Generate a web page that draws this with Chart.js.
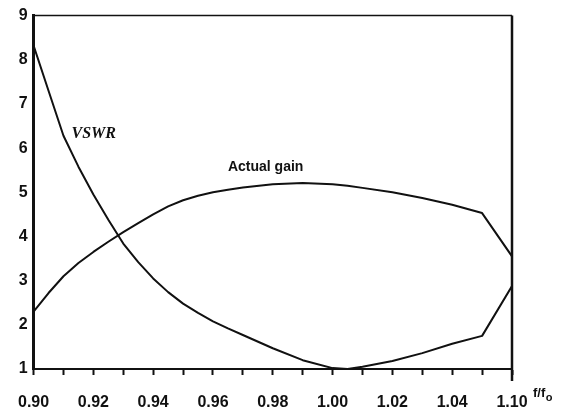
<!DOCTYPE html>
<html><head><meta charset="utf-8">
<script src="https://cdn.jsdelivr.net/npm/chart.js@4/dist/chart.umd.min.js"></script>
<style>html,body{margin:0;padding:0;background:#fff}#wrap{width:575px;height:415px;position:relative}</style>
</head><body><div id="wrap"><canvas id="c"></canvas></div>
<script>
// f/f0 (plotted positions on the axis)
const freq = [0.900,0.905,0.910,0.915,0.920,0.925,0.930,0.935,0.940,0.945,0.950,0.955,0.960,0.965,0.970,0.980,0.990,1.000,1.005,1.010,1.020,1.030,1.040,1.050,1.060];
const vswr = [8.32,7.30,6.28,5.58,4.95,4.38,3.84,3.42,3.05,2.74,2.48,2.27,2.08,1.92,1.77,1.47,1.20,1.02,1.00,1.05,1.18,1.36,1.57,1.75,2.88];
const gain = [2.30,2.72,3.10,3.40,3.65,3.88,4.10,4.30,4.50,4.68,4.82,4.92,5.00,5.06,5.11,5.18,5.21,5.18,5.15,5.10,5.00,4.87,4.72,4.53,3.55];
const xTickLabels = ["0.90","0.92","0.94","0.96","0.98","1.00","1.02","1.04","1.10"];
const yTickLabels = ["1","2","3","4","5","6","7","8","9"];
const seriesNames = ["VSWR","Actual gain"];
const axisTitle = {main:"f/f", sub:"o"};

const ink = '#111';
const pts = ys => freq.map((x,i)=>({x:x, y:ys[i]}));

const labelPos = { VSWR:{x:0.9127,y:6.33}, "Actual gain":{x:0.965,y:5.56} };

const textPlugin = {
  id:'texts',
  afterDatasetsDraw(chart){
    const {ctx, scales:{x,y}, chartArea} = chart;
    ctx.save();
    ctx.fillStyle = ink;
    ctx.textBaseline = 'middle';
    ctx.textAlign = 'left';
    ctx.font = 'bold italic 16px "Liberation Serif"';
    ctx.fillText(seriesNames[0], x.getPixelForValue(labelPos.VSWR.x), y.getPixelForValue(labelPos.VSWR.y));
    ctx.font = 'bold 14px "Liberation Sans"';
    ctx.fillText(seriesNames[1], x.getPixelForValue(labelPos["Actual gain"].x), y.getPixelForValue(labelPos["Actual gain"].y));
    // axis title
    ctx.textBaseline = 'alphabetic';
    ctx.font = 'bold 13px "Liberation Sans"';
    const tx = chartArea.right + 21, ty = chartArea.bottom + 28;
    ctx.fillText(axisTitle.main, tx, ty);
    const w = ctx.measureText(axisTitle.main).width;
    ctx.font = 'bold 11px "Liberation Sans"';
    ctx.fillText(axisTitle.sub, tx + w + 0.5, ty + 4);
    // top & right frame
    ctx.strokeStyle = ink;
    ctx.lineWidth = 1.5;
    ctx.beginPath();
    ctx.moveTo(chartArea.left, chartArea.top); ctx.lineTo(chartArea.right, chartArea.top);
    ctx.stroke();
    ctx.lineWidth = 2.5;
    ctx.beginPath();
    ctx.moveTo(chartArea.right, chartArea.top); ctx.lineTo(chartArea.right, chartArea.bottom + 12);
    ctx.stroke();
    ctx.restore();
  }
};

new Chart(document.getElementById('c'), {
  type:'line',
  data:{ datasets:[
    {label:seriesNames[0], data:pts(vswr), borderColor:ink, borderWidth:2, pointRadius:0, tension:0, fill:false, borderJoinStyle:'round'},
    {label:seriesNames[1], data:pts(gain), borderColor:ink, borderWidth:2, pointRadius:0, tension:0, fill:false, borderJoinStyle:'round'}
  ]},
  options:{
    responsive:true, maintainAspectRatio:false, animation:false,
    layout:{padding:{left:0,right:63,top:14,bottom:0}},
    plugins:{legend:{display:false}, tooltip:{enabled:false}},
    scales:{
      x:{type:'linear', min:0.90, max:1.06,
        afterFit(s){ s.height = 46; },
        border:{color:ink, width:2},
        grid:{display:true, drawOnChartArea:false, drawTicks:true, tickLength:6, tickColor:ink, tickWidth:2},
        ticks:{stepSize:0.01, autoSkip:false, maxRotation:0, color:ink, padding:18,
          font:{family:'"Liberation Sans"', weight:'bold', size:16},
          callback:(v,i)=> i%2===0 ? xTickLabels[i/2] : ''}
      },
      y:{type:'linear', min:1, max:9,
        afterFit(s){ s.width = 32; },
        border:{color:ink, width:3},
        grid:{display:false, drawTicks:false},
        ticks:{stepSize:1, color:ink, padding:6,
          font:{family:'"Liberation Sans"', weight:'bold', size:16},
          callback:(v,i)=> yTickLabels[i]}
      }
    }
  },
  plugins:[textPlugin]
});
</script></body></html>
